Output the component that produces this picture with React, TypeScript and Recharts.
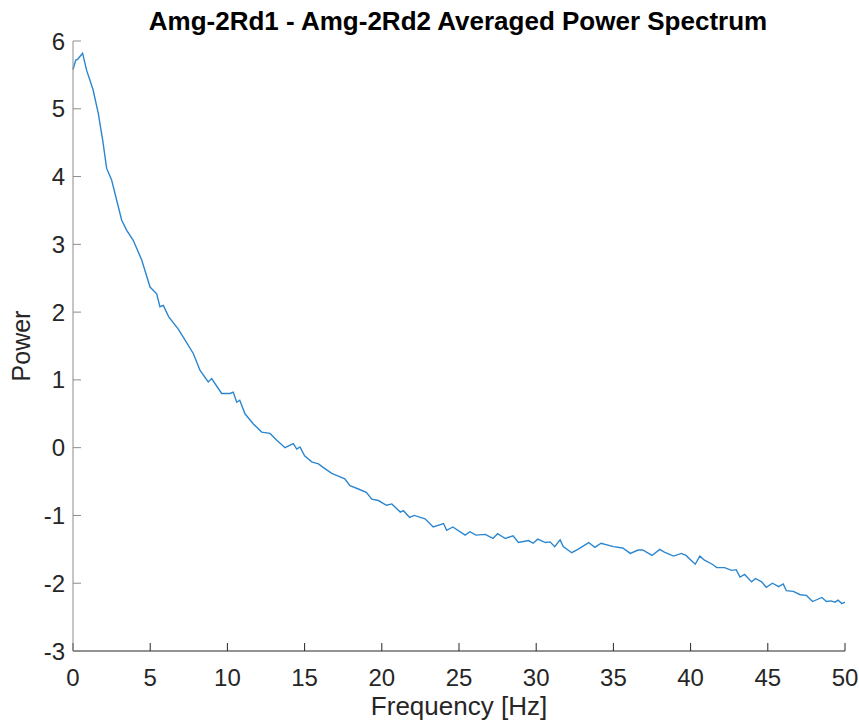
import React from 'react';
import { LineChart, Line, XAxis, YAxis, Label } from 'recharts';

// values
const freqHz = [
  0, 0.18, 0.3, 0.62, 0.88, 1.3, 1.64, 1.92, 2.18, 2.5, 2.83, 3.15, 3.47, 3.9, 4.45, 4.99,
  5.42, 5.63, 5.85, 6.2, 6.82, 7.14, 7.79, 8.23, 8.76, 8.98, 9.63, 10.17, 10.38, 10.6, 10.8,
  11.14, 11.68, 12.22, 12.76, 13.2, 13.73, 14.27, 14.49, 14.7, 15.0, 15.46, 15.9, 16.2, 16.76,
  17.3, 17.6, 17.94, 18.48, 19.0, 19.35, 19.78, 20.3, 20.65, 21.2, 21.4, 21.8, 22.1, 22.8,
  23.33, 24.0, 24.2, 24.6, 25.4, 25.7, 26.1, 26.7, 27.2, 27.5, 28.0, 28.5, 28.85, 29.5, 29.8,
  30.1, 30.6, 30.9, 31.2, 31.55, 31.75, 32.3, 32.7, 33.4, 33.8, 34.2, 35.0, 35.6, 36.1, 36.6,
  36.9, 37.5, 38.0, 38.3, 38.9, 39.4, 39.7, 40.3, 40.6, 40.9, 41.4, 41.7, 42.2, 42.65, 42.95,
  43.2, 43.5, 43.95, 44.2, 44.6, 44.9, 45.3, 45.7, 46.0, 46.2, 46.65, 47.1, 47.5, 47.9, 48.5,
  48.8, 49.1, 49.35, 49.55, 49.8, 50.0,
];

const power = [
  5.58, 5.72, 5.73, 5.82, 5.57, 5.28, 4.93, 4.54, 4.12, 3.95, 3.65, 3.36, 3.21, 3.06, 2.77, 2.37,
  2.27, 2.08, 2.1, 1.93, 1.75, 1.63, 1.39, 1.14, 0.97, 1.02, 0.8, 0.8, 0.82, 0.67, 0.7,
  0.5, 0.35, 0.23, 0.21, 0.11, 0.0, 0.06, -0.02, 0.01, -0.12, -0.21, -0.24, -0.29, -0.38,
  -0.43, -0.46, -0.56, -0.61, -0.66, -0.76, -0.78, -0.85, -0.83, -0.95, -0.93, -1.03, -1.0, -1.05,
  -1.17, -1.12, -1.22, -1.17, -1.29, -1.24, -1.29, -1.28, -1.34, -1.27, -1.34, -1.3, -1.4, -1.37, -1.41,
  -1.35, -1.4, -1.39, -1.46, -1.36, -1.46, -1.55, -1.5, -1.4, -1.47, -1.41, -1.46, -1.48, -1.56, -1.51,
  -1.51, -1.59, -1.5, -1.54, -1.6, -1.56, -1.59, -1.72, -1.6, -1.66, -1.72, -1.77, -1.77, -1.81, -1.8,
  -1.91, -1.87, -1.98, -1.93, -1.98, -2.06, -2.0, -2.05, -2.01, -2.11, -2.12, -2.17, -2.18, -2.27, -2.21,
  -2.27, -2.26, -2.28, -2.25, -2.3, -2.28,
];

const xTicks = [0, 5, 10, 15, 20, 25, 30, 35, 40, 45, 50];
const yTicks = [-3, -2, -1, 0, 1, 2, 3, 4, 5, 6];

const data = freqHz.map((f, i) => ({ f, p: power[i] }));

const font = '"Liberation Sans", Arial, Helvetica, sans-serif';

export default function App() {
  return (
    <div style={{ position: 'absolute', left: 0, top: 0, background: '#fff' }}>
      <LineChart
        width={859}
        height={721}
        data={data}
        margin={{ top: 41, right: 14, bottom: 10, left: 13 }}
      >
        <text
          x={458}
          y={30}
          textAnchor="middle"
          fontFamily={font}
          fontWeight="bold"
          fontSize={26}
          fill="#000"
        >
          Amg-2Rd1 - Amg-2Rd2 Averaged Power Spectrum
        </text>
        <XAxis
          dataKey="f"
          type="number"
          domain={[0, 50]}
          ticks={xTicks}
          height={60}
          tickSize={-8}
          tickMargin={26}
          stroke="#262626"
          tick={{ fill: '#262626', fontSize: 24, fontFamily: font }}
        >
          <Label
            value="Frequency [Hz]"
            position="insideBottom"
            offset={0}
            dy={4}
            style={{ fill: '#262626', fontSize: 26, fontFamily: font }}
          />
        </XAxis>
        <YAxis
          type="number"
          domain={[-3, 6]}
          ticks={yTicks}
          width={60}
          tickSize={-8}
          tickMargin={16}
          stroke="#8c8c8c"
          tick={{ fill: '#262626', fontSize: 24, fontFamily: font }}
        >
          <Label
            value="Power"
            angle={-90}
            position="insideLeft"
            offset={0}
            dx={8}
            style={{ fill: '#262626', fontSize: 25, fontFamily: font, textAnchor: 'middle' }}
          />
        </YAxis>
        <Line
          type="linear"
          dataKey="p"
          stroke="#2b86cf"
          strokeWidth={1.4}
          dot={false}
          isAnimationActive={false}
        />
      </LineChart>
    </div>
  );
}
